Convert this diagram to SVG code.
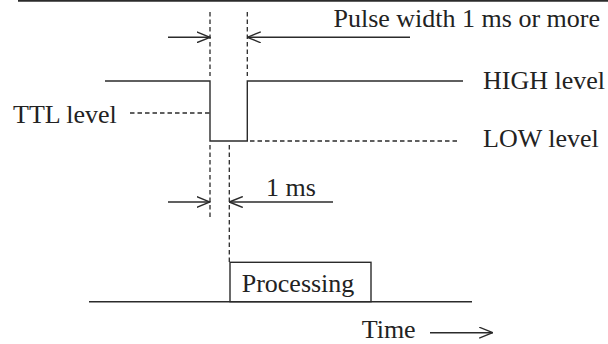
<svg xmlns="http://www.w3.org/2000/svg" width="608" height="344" viewBox="0 0 608 344">
<defs>
<style>
.ln{stroke:#2b2b2b;stroke-width:1.4;fill:none}
.ds{stroke:#2b2b2b;stroke-width:1.3;fill:none;stroke-dasharray:4.5 3}
.tx{font-family:"Liberation Serif","Times New Roman",serif;font-size:26px;fill:#222}
</style>
<marker id="ah" viewBox="0 0 14 12" refX="13.5" refY="6" markerWidth="14" markerHeight="12" markerUnits="userSpaceOnUse" orient="auto">
<path d="M0,0.5 L13.5,6 L0,11.5" fill="none" stroke="#2b2b2b" stroke-width="1.4"/>
</marker>
</defs>
<g id="frame">
<line class="ln" x1="18" y1="0.8" x2="608" y2="0.8" style="stroke-width:1.8"/>
</g>
<g id="signal">
<polyline class="ln" points="105,81 210,81 210,141 247.3,141 247.3,81 463,81"/>
</g>
<g id="processing">
<line class="ln" x1="89" y1="301.7" x2="472" y2="301.7"/>
<rect class="ln" x="230" y="262.3" width="141" height="39.4"/>
<text class="tx" x="241.7" y="291.7">Processing</text>
</g>
<g id="labels">
<text class="tx" x="600" y="27" text-anchor="end">Pulse width 1 ms or more</text>
<text class="tx" x="483" y="89">HIGH level</text>
<text class="tx" x="483" y="147">LOW level</text>
<text class="tx" x="13" y="123">TTL level</text>
<text class="tx" x="266" y="196">1 ms</text>
<text class="tx" x="361.7" y="338.3">Time</text>
</g>
<g id="connectors">
<line class="ds" x1="210" y1="12" x2="210" y2="76"/>
<line class="ds" x1="247.3" y1="12" x2="247.3" y2="76"/>
<line class="ds" x1="130" y1="113" x2="210" y2="113"/>
<line class="ds" x1="250" y1="141" x2="457" y2="141"/>
<line class="ds" x1="210" y1="145" x2="210" y2="220"/>
<line class="ds" x1="229.3" y1="145" x2="229.3" y2="262"/>
<line class="ln" x1="168" y1="37.3" x2="210" y2="37.3" marker-end="url(#ah)"/>
<line class="ln" x1="410" y1="37.3" x2="247.3" y2="37.3" marker-end="url(#ah)"/>
<line class="ln" x1="168" y1="202" x2="210" y2="202" marker-end="url(#ah)"/>
<line class="ln" x1="333" y1="202" x2="229.3" y2="202" marker-end="url(#ah)"/>
<line class="ln" x1="430" y1="332.7" x2="492.7" y2="332.7" marker-end="url(#ah)"/>
</g>
</svg>
